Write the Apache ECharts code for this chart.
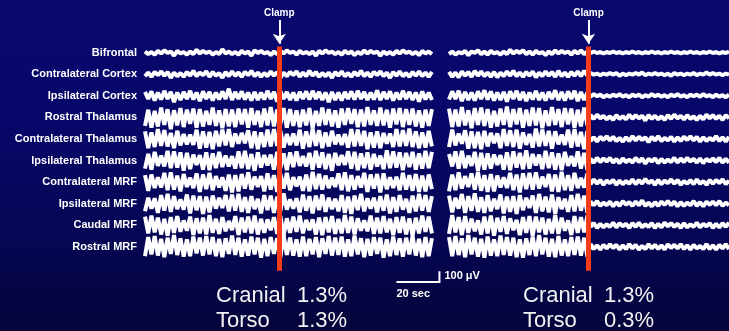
<!DOCTYPE html>
<html><head><meta charset="utf-8">
<script src="https://cdn.jsdelivr.net/npm/echarts@6/dist/echarts.min.js"></script>
<style>
html,body{margin:0;padding:0;background:#06064e;}
#c{width:729px;height:331px;background:linear-gradient(to bottom,#08086e 0%,#07076a 35%,#060656 70%,#04043a 100%);}
</style>
</head><body><div id="c"></div>
<script>
// ---- channel names (tick labels) ----
const channels = ['Bifrontal','Contralateral Cortex','Ipsilateral Cortex','Rostral Thalamus','Contralateral Thalamus','Ipsilateral Thalamus','Contralateral MRF','Ipsilateral MRF','Caudal MRF','Rostral MRF'];
const sampleStep = 1.5;          // seconds between samples
const clampTimes = [62.5, 65];   // clamp time (s) in left / right record
const scaleBarSeconds = 20;
const scaleBarMicrovolts = 100;
const resultsLeft = [['Cranial','1.3%'],['Torso','1.3%']];
const resultsRight = [['Cranial','1.3%'],['Torso','0.3%']];

// ---- left record (μV), 90 samples each ----
const left_Bifrontal = [
-10,15,-5,20,-15,10,-20,5,-10,30,
-15,10,-5,20,-10,15,-25,10,-15,5,
-10,20,-5,15,-30,10,-10,15,-5,20,
-15,10,-10,30,-20,5,-15,10,-5,25,
-10,15,-15,10,-20,5,-10,20,-15,10,
-5,15,-10,30,-15,10,-20,5,-10,15,
-5,20,-15,10,-10,25,-5,15,-20,10,
-15,5,-10,30,-10,15,-5,20,-15,10,
-20,5,-10,15,-5,25,-15,10,-10,15];
const left_ContraCortex = [
20,-15,25,-20,10,-25,15,-20,35,-15,
20,-10,25,-20,15,-30,20,-15,10,-25,
25,-20,15,-10,35,-20,20,-25,15,-15,
25,-20,10,-30,20,-15,25,-10,20,-25,
15,-20,35,-15,20,-20,10,-25,25,-15,
20,-30,15,-20,25,-10,20,-15,35,-20,
15,-25,20,-10,25,-20,15,-30,20,-15,
25,-20,10,-25,20,-15,35,-20,15,-25,
20,-10,25,-20,15,-25,20,-15,25,-20];
const left_IpsiCortex = [
-35,30,-40,45,-30,35,-45,30,-35,60,
-30,40,-35,30,-45,35,-30,50,-40,30,
-35,45,-30,35,-40,30,-65,40,-35,30,
-40,35,-30,45,-35,40,-30,35,-45,30,
-35,55,-40,30,-35,40,-30,45,-35,30,
-40,35,-45,30,-35,40,-30,60,-35,40,
-30,45,-35,30,-40,35,-45,30,-35,40,
-30,35,-50,40,-35,30,-40,45,-30,35,
-45,30,-35,40,-30,55,-40,35,-30,40];
const left_RostralThal = [
80,-70,95,-60,85,-90,70,-75,110,-65,
75,-85,90,-70,60,-80,95,-75,85,-60,
70,-90,80,-65,100,-75,85,-70,90,-80,
65,-75,95,-85,70,-60,90,-80,75,-95,
85,-70,60,-85,95,-75,80,-65,90,-70,
75,-85,100,-60,80,-90,70,-75,85,-65,
95,-80,70,-85,60,-75,90,-70,85,-95,
70,-65,80,-90,75,-70,95,-80,65,-85,
90,-75,70,-80,85,-65,95,-70,80,-75];
const left_ContraThal = [
-70,85,-60,75,-90,65,-80,70,-55,85,
-75,60,-45,50,-40,55,-85,90,-70,80,
-65,95,-75,70,-85,60,-90,75,-50,45,
-55,40,-80,85,-70,95,-60,75,-85,70,
-90,65,-75,80,-45,55,-50,60,-85,90,
-70,75,-95,65,-80,85,-60,70,-75,50,
-40,55,-45,80,-90,70,-85,65,-75,95,
-60,80,-70,85,-55,45,-50,75,-90,70,
-80,65,-95,75,-70,85,-60,80,-75,70];
const left_IpsiThal = [
75,-60,85,-80,50,-45,55,-90,70,-85,
65,-75,95,-70,80,-55,40,-50,85,-75,
90,-65,70,-80,60,-45,55,-40,75,-85,
70,-90,80,-60,95,-75,65,-50,45,-55,
85,-80,70,-65,90,-75,60,-85,50,-40,
55,-70,85,-90,65,-75,80,-60,95,-70,
45,-50,40,-85,75,-80,90,-65,70,-75,
85,-60,55,-45,80,-95,70,-85,65,-75,
90,-70,60,-80,85,-65,75,-90,70,-80];
const left_ContraMRF = [
-65,80,-70,55,-45,50,-85,75,-90,70,
-60,85,-75,45,-40,55,-80,90,-70,65,
-85,75,-55,50,-45,80,-70,95,-65,85,
-75,60,-90,70,-50,45,-55,85,-80,70,
-65,90,-75,60,-85,75,-45,40,-50,80,
-70,85,-95,65,-75,70,-60,55,-40,45,
-80,75,-90,85,-65,70,-55,50,-85,90,
-70,60,-75,95,-80,65,-45,55,-50,75,
-85,70,-65,80,-75,90,-60,85,-70,65];
const left_IpsiMRF = [
70,-55,45,-50,85,-80,65,-90,75,-70,
50,-40,55,-85,90,-75,60,-70,95,-65,
80,-75,45,-55,40,-80,70,-85,65,-90,
75,-60,85,-70,50,-45,90,-80,60,-75,
85,-65,70,-95,55,-40,45,-50,80,-85,
65,-70,90,-75,60,-85,75,-55,50,-45,
70,-80,85,-65,95,-75,60,-90,70,-50,
45,-55,80,-70,65,-85,90,-60,75,-80,
55,-45,85,-75,70,-90,65,-80,75,-70];
const left_CaudalMRF = [
-80,75,-90,65,-70,85,-60,95,-75,70,
-85,60,-45,50,-80,90,-65,75,-70,85,
-95,70,-60,80,-75,55,-40,45,-85,90,
-70,65,-80,75,-90,85,-60,70,-55,45,
-75,80,-85,95,-65,70,-80,60,-90,75,
-50,45,-55,85,-70,90,-75,65,-85,80,
-60,75,-95,70,-80,85,-65,50,-45,55,
-90,80,-70,75,-85,65,-60,90,-75,70,
-80,85,-65,95,-70,75,-90,60,-80,75];
const left_RostralMRF = [
85,-90,70,-100,80,-75,95,-85,65,-110,
75,-80,90,-70,85,-95,60,-85,80,-100,
70,-90,85,-75,95,-80,65,-105,75,-85,
90,-70,80,-95,70,-85,100,-75,85,-90,
65,-80,95,-110,75,-85,80,-70,90,-95,
85,-75,70,-90,95,-80,65,-100,80,-85,
75,-95,90,-70,85,-105,70,-80,95,-75,
80,-90,65,-85,100,-70,85,-95,75,-80,
90,-85,70,-100,80,-75,95,-90,85,-80];

// ---- right record (μV), 88 samples each: 44 before clamp, 44 after ----
const right_Bifrontal = [
15,-10,20,-5,10,-15,25,-10,5,-20,
15,-10,20,-15,10,-5,20,-10,15,-25,
10,-15,5,-20,15,-10,20,-15,10,-5,
25,-10,15,-20,10,-15,5,-10,20,-15,
10,-20,15,-10,
5,-10,5,-5,10,-5,5,-10,5,-5,
10,-5,5,-10,5,-5,10,-5,5,-10,
5,-5,10,-5,5,-10,5,-5,10,-5,
5,-10,5,-5,10,-5,5,-10,5,-5,
10,-5,5,-10];
const right_ContraCortex = [
-20,25,-15,30,-25,15,-20,25,-30,15,
-25,20,-15,25,-20,30,-15,20,-25,15,
-30,20,-15,25,-20,15,-25,30,-15,20,
-25,15,-20,25,-30,20,-15,25,-20,15,
-25,20,-30,15,
-10,5,-5,10,-5,5,-10,5,-10,15,
-5,10,-5,5,-10,5,-15,10,-5,5,
-10,5,-5,10,-5,15,-10,5,-5,10,
-5,5,-10,10,-5,5,-15,5,-10,5,
-5,10,-5,5];
const right_IpsiCortex = [
35,-40,30,-45,50,-35,40,-30,45,-40,
30,-50,35,-40,45,-30,40,-35,55,-40,
30,-45,40,-35,50,-30,35,-45,40,-30,
45,-35,30,-50,40,-35,45,-40,30,-45,
50,-35,40,-30,
10,-15,5,-10,15,-5,10,-10,5,-15,
10,-5,15,-10,5,-10,15,-5,10,-15,
5,-10,10,-5,15,-10,5,-15,10,-5,
15,-10,5,-10,10,-15,5,-5,15,-10,
10,-5,15,-10];
const right_RostralThal = [
-80,90,-70,85,-95,75,-65,100,-85,70,
-90,80,-75,95,-60,85,-80,70,-100,90,
-75,65,-85,95,-70,80,-90,75,-85,100,
-65,80,-95,70,-75,90,-85,65,-80,95,
-70,85,-90,75,
-20,15,-25,10,-15,20,-10,25,-20,15,
-10,20,-25,15,-20,10,-15,30,-20,15,
-15,20,-10,25,-20,15,-25,10,-15,20,
-20,15,-10,25,-15,20,-25,10,-20,15,
-15,25,-20,10];
const right_ContraThal = [
75,-85,60,-50,45,-80,90,-70,85,-65,
95,-75,70,-55,40,-50,85,-90,65,-80,
75,-85,90,-60,55,-45,80,-95,70,-85,
65,-75,90,-70,50,-40,55,-85,80,-90,
70,-65,95,-75,
20,-15,25,-20,10,-25,15,-20,20,-10,
25,-15,20,-25,15,-20,10,-15,30,-20,
15,-25,20,-10,15,-20,25,-15,20,-20,
10,-25,15,-20,25,-15,20,-10,15,-25,
20,-15,25,-20];
const right_IpsiThal = [
-60,55,-85,75,-90,70,-45,50,-80,95,
-70,85,-65,75,-55,40,-50,85,-75,90,
-85,65,-70,80,-95,75,-60,45,-55,80,
-90,70,-75,85,-65,90,-80,50,-40,55,
-85,75,-70,90,
-15,20,-25,15,-20,10,-25,20,-15,25,
-20,15,-10,20,-25,15,-20,30,-15,10,
-20,25,-15,20,-10,15,-25,20,-20,15,
-25,10,-15,20,-20,25,-15,10,-20,15,
-25,20,-15,20];
const right_ContraMRF = [
85,-70,75,-90,60,-55,45,-80,70,-95,
80,-65,90,-75,85,-60,50,-45,55,-85,
75,-70,95,-80,65,-85,70,-90,60,-50,
45,-75,85,-70,90,-95,75,-65,80,-85,
55,-40,50,-80,
20,-25,15,-20,25,-15,10,-20,25,-15,
20,-10,15,-25,20,-20,15,-30,10,-15,
25,-20,20,-15,10,-25,15,-20,25,-10,
15,-20,20,-25,15,-10,25,-20,15,-20,
10,-25,20,-15];
const right_IpsiMRF = [
-75,80,-55,45,-90,85,-70,65,-95,75,
-60,85,-80,70,-45,50,-85,90,-65,75,
-70,95,-80,60,-55,40,-75,85,-90,70,
-65,80,-85,95,-60,50,-45,75,-80,70,
-90,65,-75,85,
-20,15,-25,20,-10,15,-20,25,-15,20,
-25,10,-15,20,-20,15,-30,20,-10,25,
-15,20,-20,10,-25,15,-20,25,-15,20,
-10,15,-25,20,-15,25,-20,10,-20,15,
-25,20,-10,15];
const right_CaudalMRF = [
80,-95,65,-75,90,-85,70,-60,55,-45,
85,-80,75,-90,95,-70,60,-85,80,-65,
45,-50,90,-75,70,-85,95,-80,65,-70,
85,-60,75,-95,80,-70,50,-45,90,-85,
70,-75,65,-90,
15,-20,25,-15,20,-10,15,-25,20,-20,
10,-15,25,-20,15,-25,20,-10,15,-20,
25,-15,20,-25,10,-20,15,-15,25,-20,
20,-10,15,-25,20,-15,10,-20,25,-15,
20,-20,15,-25];
const right_RostralMRF = [
-90,85,-100,75,-80,95,-110,70,-85,90,
-75,100,-95,80,-70,85,-105,75,-90,80,
-85,95,-70,100,-80,75,-95,85,-110,70,
-85,90,-75,95,-100,80,-70,85,-90,75,
-95,80,-85,90,
-25,20,-15,25,-20,15,-25,10,-20,25,
-15,20,-25,15,-20,25,-10,20,-25,15,
-20,20,-15,25,-25,10,-20,15,-25,20,
-15,25,-20,15,-10,20,-25,20,-15,25,
-20,15,-25,20];

const leftTraces = [left_Bifrontal,left_ContraCortex,left_IpsiCortex,left_RostralThal,left_ContraThal,left_IpsiThal,left_ContraMRF,left_IpsiMRF,left_CaudalMRF,left_RostralMRF];
const rightTraces = [right_Bifrontal,right_ContraCortex,right_IpsiCortex,right_RostralThal,right_ContraThal,right_IpsiThal,right_ContraMRF,right_IpsiMRF,right_CaudalMRF,right_RostralMRF];

// ---- layout / style ----
const SPACING = 200; // μV between channel baselines
const RED = '#f23c1a';
const FONT = '"Liberation Sans", Arial, sans-serif';
const chart = echarts.init(document.getElementById('c'), null, {renderer:'canvas'});

function clampMarks(t){
  return {
    silent:true, animation:false, symbol:['none','none'],
    data:[
      [{coord:[t,-55], lineStyle:{color:RED,width:5,type:'solid'}, label:{show:false}},{coord:[t,2020]}],
      [{coord:[t,-300], symbol:'none', lineStyle:{color:'#ffffff',width:2,type:'solid'},
        label:{show:true, position:'start', formatter:'Clamp', color:'#ffffff', fontSize:10, fontWeight:'bold', fontFamily:FONT, distance:2}},
       {coord:[t,-80], symbol:'arrow', symbolSize:[10,10]}]
    ]
  };
}

function buildSeries(traces, g){
  return traces.map((arr,i)=>{
    const s = {
      type:'line', xAxisIndex:g, yAxisIndex:g, symbol:'none', silent:true, animation:false,
      data: arr.map((v,k)=>[k*sampleStep, v + i*SPACING]),
      lineStyle:{color:'#ffffff', width:4, join:'bevel'}, z:2
    };
    if(i===traces.length-1){ s.markLine = clampMarks(clampTimes[g]); s.z = 3; }
    return s;
  });
}

const yBase = {type:'value', inverse:true, min:-400, max:2100, interval:SPACING,
  splitLine:{show:false}, axisLine:{show:false}, axisTick:{show:false}};

chart.setOption({
  backgroundColor:'transparent',
  animation:false,
  grid:[
    {left:145, width:288, top:9.3, height:270},
    {left:449, width:280, top:9.3, height:270}
  ],
  xAxis:[
    {type:'value', gridIndex:0, min:0, max:134, show:false},
    {type:'value', gridIndex:1, min:0, max:130.5, show:false}
  ],
  yAxis:[
    Object.assign({}, yBase, {gridIndex:0, axisLabel:{show:true, color:'#ffffff', fontSize:11, fontWeight:'bold', fontFamily:FONT, margin:8,
      formatter:v=>{ const i=v/SPACING; return (Number.isInteger(i)&&i>=0&&i<channels.length)?channels[i]:''; }}}),
    Object.assign({}, yBase, {gridIndex:1, axisLabel:{show:false}})
  ],
  series: buildSeries(leftTraces,0).concat(buildSeries(rightTraces,1))
});

// scale bar placed through the left record's scales
const p0 = chart.convertToPixel({gridIndex:0},[117,2125]);
const p1 = chart.convertToPixel({gridIndex:0},[117+scaleBarSeconds,2125]);
const p2 = chart.convertToPixel({gridIndex:0},[117+scaleBarSeconds,2125-scaleBarMicrovolts]);

const textStyle = (txt)=>({text:txt, fill:'#f2f2f2', font:'22px '+FONT});
const graphics = [
  {type:'polyline', shape:{points:[p0,p1,p2]}, style:{stroke:'#ffffff', lineWidth:2, fill:null}, silent:true},
  {type:'text', x:p1[0]+5, y:(p1[1]+p2[1])/2-6, style:{text:scaleBarMicrovolts+' μV', fill:'#ffffff', font:'bold 11px '+FONT}},
  {type:'text', x:p0[0], y:p0[1]+6, style:{text:scaleBarSeconds+' sec', fill:'#ffffff', font:'bold 11px '+FONT}}
];
[[resultsLeft,216,297],[resultsRight,523,604]].forEach(([rows,xl,xv])=>{
  rows.forEach((r,j)=>{
    graphics.push({type:'text', x:xl, y:285+j*25, style:textStyle(r[0])});
    graphics.push({type:'text', x:xv, y:285+j*25, style:textStyle(r[1])});
  });
});
chart.setOption({graphic:graphics});
</script></body></html>
